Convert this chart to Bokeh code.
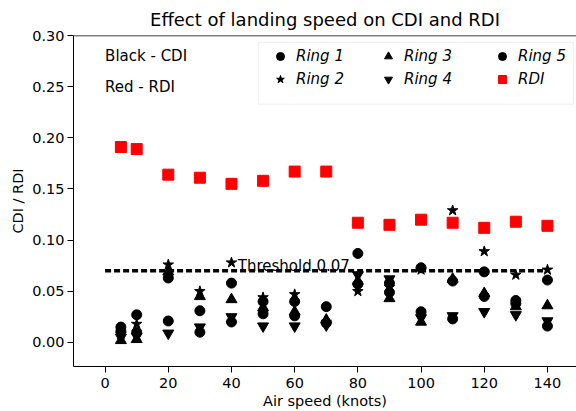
from bokeh.plotting import figure
from bokeh.models import (Range1d, FixedTicker, PrintfTickFormatter, Legend, LegendItem,
                          Span, Title, BoxAnnotation)
from bokeh.core.properties import value
from bokeh.embed import file_html
from bokeh.resources import INLINE

speed = [5, 10, 20, 30, 40, 50, 60, 70, 80, 90, 100, 110, 120, 130, 140]
rdi = [0.191, 0.189, 0.164, 0.161, 0.155, 0.158, 0.167, 0.167, 0.117, 0.115, 0.120, 0.117, 0.112, 0.118, 0.114]
ring1 = [0.015, 0.027, 0.063, 0.031, 0.058, 0.040, 0.040, 0.035, 0.087, 0.058, 0.073, 0.060, 0.069, 0.041, 0.061]
ring2 = [0.008, 0.018, 0.076, 0.050, 0.078, 0.044, 0.047, 0.020, 0.050, 0.054, 0.071, 0.129, 0.089, 0.066, 0.071]
ring3 = [0.002, 0.003, 0.069, 0.045, 0.042, 0.034, 0.030, 0.022, 0.060, 0.043, 0.020, 0.062, 0.048, 0.035, 0.036]
ring4 = [0.005, 0.006, 0.009, 0.015, 0.025, 0.016, 0.016, 0.017, 0.066, 0.062, 0.024, 0.026, 0.030, 0.027, 0.021]
ring5 = [0.011, 0.010, 0.021, 0.010, 0.020, 0.028, 0.026, 0.019, 0.057, 0.049, 0.030, 0.023, 0.045, 0.038, 0.016]
threshold_x = [0, 140]
threshold_y = [0.07, 0.07]
x_ticks = [0, 20, 40, 60, 80, 100, 120, 140]
y_ticks = [0.0, 0.05, 0.10, 0.15, 0.20, 0.25, 0.30]

FONT = "DejaVu Sans"

p = figure(width=576, height=411, output_backend="svg", toolbar_location=None,
           x_range=Range1d(-10, 149.2), y_range=Range1d(-0.0235, 0.30),
           min_border_left=73, min_border_right=0, min_border_top=34, min_border_bottom=45)
p.outline_line_color = None
p.grid.visible = False
p.background_fill_color = "white"
p.border_fill_color = "white"

p.title = Title(text="Effect of landing speed on CDI and RDI", align="center",
                text_font=FONT, text_font_size="18px", text_font_style="normal",
                text_color="black", standoff=12)

for ax in (p.xaxis[0], p.yaxis[0]):
    ax.axis_line_color = "black"
    ax.axis_line_width = 1
    ax.major_tick_out = 6
    ax.major_tick_in = 0
    ax.minor_tick_line_color = None
    ax.major_label_text_font = FONT
    ax.major_label_text_font_size = "14.5px"
    ax.major_label_text_color = "black"
    ax.axis_label_text_font = FONT
    ax.axis_label_text_font_size = "14.5px"
    ax.axis_label_text_font_style = "normal"
    ax.axis_label_text_color = "black"

p.xaxis.ticker = FixedTicker(ticks=x_ticks)
p.yaxis.ticker = FixedTicker(ticks=y_ticks)
p.yaxis.formatter = PrintfTickFormatter(format="%.2f")
p.xaxis.axis_label = "Air speed (knots)"
p.yaxis.axis_label = "CDI / RDI"
p.xaxis.major_label_standoff = 5
p.yaxis.major_label_standoff = 3
p.xaxis.axis_label_standoff = 2
p.yaxis.axis_label_standoff = 3

p.add_layout(Span(location=0.30, dimension="width", line_color="black", line_width=1.5))

# legend frame (layout decoration, in data units)
p.add_layout(BoxAnnotation(left=48.5, right=148.2, top=0.2932, bottom=0.2328,
                           fill_color="white", fill_alpha=1.0,
                           line_color="#cfcfcf", line_width=1.2))

r1 = p.scatter(speed, ring1, marker="circle", size=10, fill_color="black", line_color="black")
r2 = p.scatter(speed, ring2, marker="star", size=11, fill_color="black", line_color="black")
r3 = p.scatter(speed, ring3, marker="triangle", size=11, fill_color="black", line_color="black")
r4 = p.scatter(speed, ring4, marker="inverted_triangle", size=11, fill_color="black", line_color="black")
r5 = p.scatter(speed, ring5, marker="circle", size=10, fill_color="black", line_color="black")
rr = p.scatter(speed, rdi, marker="square", size=11, fill_color="#ff0000", line_color="#ff0000")

p.line(threshold_x, threshold_y, line_color="black", line_width=3.5, line_dash="6 3")

p.text(x=[42], y=[0.0748], text=["Threshold 0.07"], text_font=value(FONT),
       text_font_size="15px", text_baseline="alphabetic", text_align="left", text_color="black")
p.text(x=[0, 0], y=[0.28, 0.25], text=["Black - CDI", "Red - RDI"], text_font=value(FONT),
       text_font_size="15px", text_baseline="alphabetic", text_align="left", text_color="black")

columns = [
    [("Ring 1", r1), ("Ring 2", r2)],
    [("Ring 3", r3), ("Ring 4", r4)],
    [("Ring 5", r5), ("RDI", rr)],
]
col_offsets = [197, 305, 419]
for col, xoff in zip(columns, col_offsets):
    lg = Legend(items=[LegendItem(label=l, renderers=[r]) for l, r in col],
                orientation="vertical", location=(xoff, 277))
    lg.label_text_font = FONT
    lg.label_text_font_size = "15px"
    lg.label_text_font_style = "italic"
    lg.label_text_color = "black"
    lg.glyph_width = 20
    lg.glyph_height = 20
    lg.label_standoff = 6
    lg.label_height = 20
    lg.spacing = 3
    lg.padding = 0
    lg.margin = 0
    lg.border_line_color = None
    lg.background_fill_alpha = 0
    p.add_layout(lg, "center")

open("out.html", "w").write(file_html(p, INLINE))
